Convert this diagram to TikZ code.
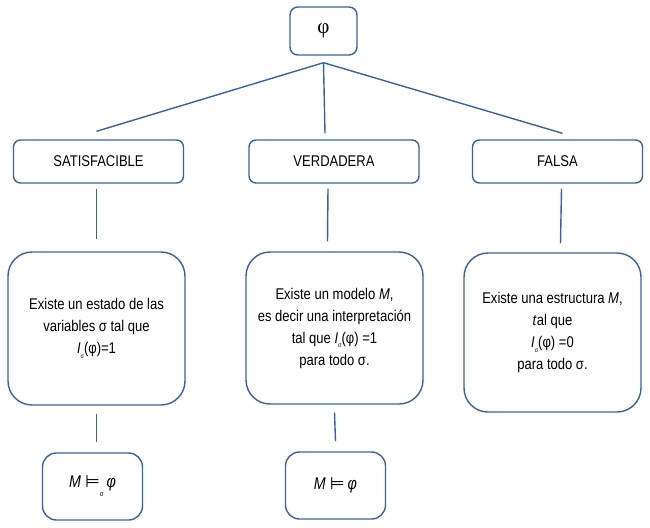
\documentclass[tikz,border=0pt]{standalone}
\usepackage{fontspec}
\setmainfont{Liberation Sans}[FakeStretch=0.84]
\newfontfamily\phifont{Liberation Serif}
\newfontfamily\symfont{DejaVu Sans}
\usepackage{tikz}
\usetikzlibrary{positioning,calc}

\definecolor{boxblue}{RGB}{55,98,165}
\newcommand{\Isig}{\textit{I}\raisebox{-0.55ex}{\fontsize{6.5}{6.5}\selectfont σ}}

\begin{document}
\begin{tikzpicture}[x=1pt, y=-1pt,
        every node/.style={font=\fontsize{15.5}{22}\selectfont, align=center, text=black},
        box/.style={draw=boxblue, line width=1.4pt, rounded corners=7pt,
                minimum width=170pt, minimum height=43pt},
        bigbox/.style={draw=boxblue, line width=1.4pt, rounded corners=24pt,
                minimum width=177pt, minimum height=153pt},
        modbox/.style={draw=boxblue, line width=1.4pt, rounded corners=14pt,
                minimum width=100pt, minimum height=67pt,
                font=\fontsize{17}{20}\selectfont},
        link/.style={draw=boxblue, line width=1.4pt}
        ]
        \useasboundingbox (0,0) rectangle (650,527);

        % ---------------- Root ----------------
        \node[box, minimum width=67pt, minimum height=48pt, rounded corners=8pt,
              font=\phifont\fontsize{21}{24}\selectfont] (phi) at (323.5,31) {φ};

        % ---------------- Classes ----------------
        \node[box] (sat)  at ( 98.5,161.5) {SATISFACIBLE};
        \node[box] (verd) at (334,161.5)   {VERDADERA};
        \node[box] (fal)  at (557.5,161.5) {FALSA};

        % ---------------- Definitions ----------------
        \node[bigbox] (satdef)  at ( 96.5,328.5) {Existe un estado de las\\variables σ tal que\\\Isig(φ)=1};
        \node[bigbox, minimum height=152pt] (verddef) at (334.5,328)
                {Existe un modelo \textit{M},\\es decir una interpretación\\tal que \Isig(φ) =1\\para todo σ.};
        \node[bigbox, minimum height=159pt] (faldef)  at (552.5,332.5)
                {Existe una estructura \textit{M},\\\textit{t}al que\\\Isig(φ) =0\\para todo σ.};

        % ---------------- Notation ----------------
        \node[modbox] (satmod)  at ( 92.5,486.5)
                {\textit{M}\hspace{4pt}{\symfont ⊨}\raisebox{-1ex}{\fontsize{7}{7}\selectfont σ}\hspace{3pt}\textit{φ}};
        \node[modbox] (verdmod) at (335.5,485.5) {\textit{M}\hspace{4pt}{\symfont ⊨}\hspace{3pt}\textit{φ}};

        % ---------------- Lines ----------------
        \draw[link] ([yshift=-7pt]phi.south) -- ([xshift=-2pt,yshift=8pt]sat.north);
        \draw[link] ([yshift=-7pt]phi.south) -- ([xshift=-9pt,yshift=6pt]verd.north);
        \draw[link] ([yshift=-7pt]phi.south) -- ([xshift=5pt,yshift=6pt]fal.north);

        \draw[link] ([xshift=-2pt,yshift=-5pt]sat.south)  -- ([yshift=12pt]satdef.north);
        \draw[link] ([xshift=-6pt,yshift=-5pt]verd.south) -- ([xshift=-7pt,yshift=10pt]verddef.north);
        \draw[link] ([xshift=4pt,yshift=-5pt]fal.south)   -- ([xshift=8pt,yshift=9pt]faldef.north);

        \draw[link] ([yshift=-8pt]satdef.south)  -- ([xshift=4pt,yshift=10pt]satmod.north);
        \draw[link] ([yshift=-8pt]verddef.south) -- ([yshift=10pt]verdmod.north);

    \end{tikzpicture}
\end{document}
